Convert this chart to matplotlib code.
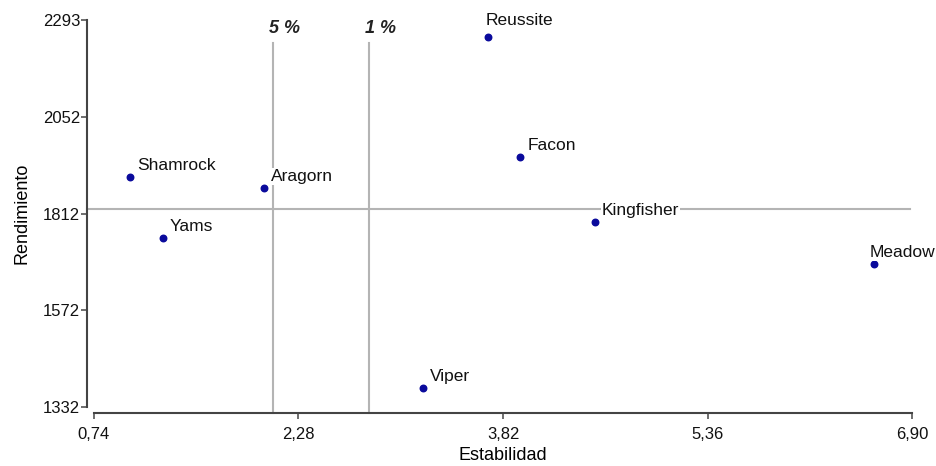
import numpy as np
import matplotlib.pyplot as plt
from matplotlib.transforms import blended_transform_factory

plt.rcParams['font.family'] = ['Liberation Sans', 'DejaVu Sans']

# Cultivares: estabilidad (x) y rendimiento (y)
cultivares = ['Shamrock', 'Yams', 'Aragorn', 'Reussite', 'Facon',
              'Kingfisher', 'Meadow', 'Viper']
estabilidad = [1.01, 1.26, 2.02, 3.71, 3.95, 4.51, 6.61, 3.22]
rendimiento = [1902, 1751, 1875, 2251, 1952, 1792, 1686, 1379]

# Valores criticos de estabilidad
criticos = [2.09, 2.81]
criticos_txt = ['5 %', '1 %']

x_ticks = [0.74, 2.28, 3.82, 5.36, 6.90]
x_labels = ['0,74', '2,28', '3,82', '5,36', '6,90']
y_ticks = [1332, 1572, 1812, 2052, 2293]

media = np.mean(rendimiento)

fig = plt.figure(figsize=(9.36, 4.66), dpi=100)
ax = fig.add_axes([0.1004, 0.1273, 0.874, 0.8298])

ax.set_xlim(0.74, 6.90)
ax.set_ylim(1332, 2293)

gris = '#b4b4b4'
trans = blended_transform_factory(ax.transData, ax.transAxes)
for xc, txt in zip(criticos, criticos_txt):
    ax.plot([xc, xc], [-0.016, 0.94], transform=trans, color=gris,
            lw=1.5, clip_on=False, zorder=1)
    ax.text(xc - 0.03, 0.955, txt, transform=trans, ha='left', va='bottom',
            fontsize=13, fontweight='bold', fontstyle='italic',
            color='#222222')

ax.axhline(media, xmin=-0.008, xmax=0.998, color=gris, lw=1.5,
           clip_on=False, zorder=1)

ax.scatter(estabilidad, rendimiento, s=22, color='#0a0a9c', zorder=3,
           clip_on=False)

# etiquetas junto a cada punto; Meadow y Reussite se corren para caber
desplaz = {'Reussite': (-3, 12), 'Meadow': (-4, 7)}
for nombre, xv, yv in zip(cultivares, estabilidad, rendimiento):
    dx, dy = desplaz.get(nombre, (7, 7))
    ax.annotate(nombre, (xv, yv), xytext=(dx, dy), textcoords='offset pixels',
                ha='left', va='baseline', fontsize=12.5, color='#111111',
                bbox=dict(facecolor='white', edgecolor='none', pad=0.5),
                zorder=4, annotation_clip=False)

for lado in ['top', 'right']:
    ax.spines[lado].set_visible(False)
ax.spines['left'].set_position(('outward', 5))
ax.spines['bottom'].set_position(('outward', 4.3))
for lado in ['left', 'bottom']:
    ax.spines[lado].set_color('#444444')
    ax.spines[lado].set_linewidth(1.5)

ax.set_xticks(x_ticks)
ax.set_xticklabels(x_labels)
ax.set_yticks(y_ticks)
ax.tick_params(axis='both', labelsize=12, color='#555555', width=1.2,
               length=4, labelcolor='#111111')
ax.tick_params(axis='x', pad=6)
ax.tick_params(axis='y', pad=1)

ax.set_xlabel('Estabilidad', fontsize=13, labelpad=4)
ax.set_ylabel('Rendimiento', fontsize=13, labelpad=9)

fig.savefig('out.png', dpi=100)
